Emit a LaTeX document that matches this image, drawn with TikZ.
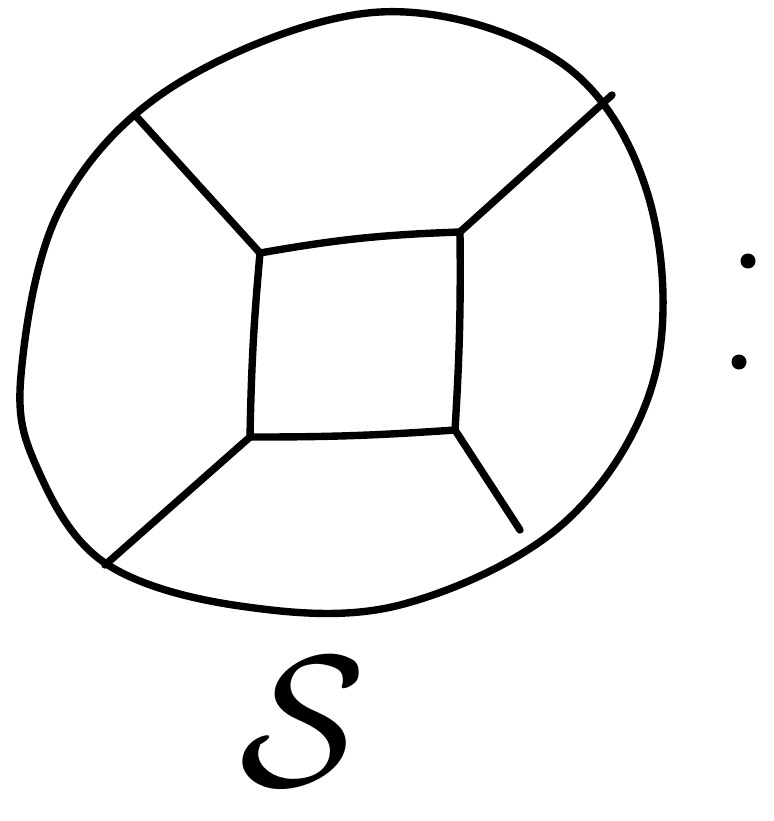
\documentclass[tikz,border=0pt]{standalone}
\usepackage{graphicx}
\begin{document}
\begin{tikzpicture}[x=0.01cm,y=-0.01cm,
  stroke/.style={line width=2.1pt,line cap=round,line join=round},
  dot/.style={circle,fill=black,inner sep=0pt,minimum size=0.15cm}]
\useasboundingbox (0,0) rectangle (774,821);
% outer circle
\draw[stroke] plot[smooth cycle,tension=0.6] coordinates {
  (21,375) (62,205) (180,82) (380,12) (560,62) (648,195)
  (655,375) (565,522) (400,605) (240,606) (105,563) (38,470)};
% inner square corners
\coordinate (a) at (260,253);
\coordinate (b) at (460,232);
\coordinate (c) at (455,430);
\coordinate (d) at (250,437);
% outer ends of spokes
\coordinate (oa) at (135,115);
\coordinate (ob) at (612,95);
\coordinate (oc) at (520,530);
\coordinate (od) at (105,565);
\draw[stroke] (a) to[bend left=4] (b) to[bend left=2] (c) to[bend left=2] (d) to[bend left=2] (a);
\draw[stroke] (a) -- (oa);
\draw[stroke] (b) -- (ob);
\draw[stroke] (c) -- (oc);
\draw[stroke] (d) -- (od);
% dots
\node[dot] (d1) at (748,261) {};
\node[dot] (d2) at (739,362) {};
% label
\node (s) at (303,722) {\scalebox{5.3}{$\mathcal{S}$}};
\end{tikzpicture}
\end{document}
